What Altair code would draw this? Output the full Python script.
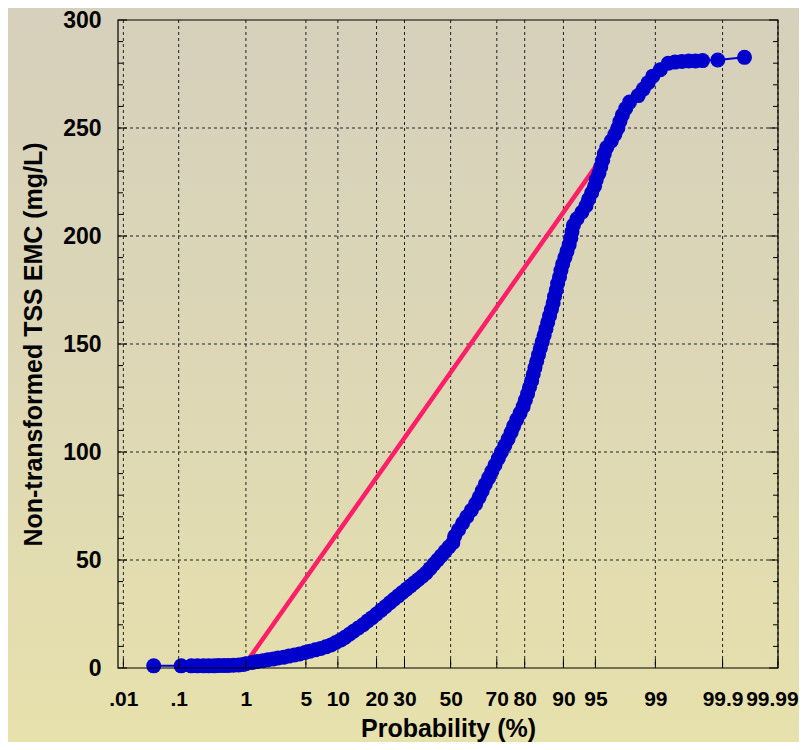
import altair as alt
import pandas as pd
from statistics import NormalDist

# ---- data ----
prob_pct = [
    0.037, 0.11, 0.16, 0.20, 0.25, 0.30, 0.36, 0.42, 0.50, 0.58, 0.68, 0.80, 0.92,
    1.0, 1.2, 1.4, 1.65, 1.9, 2.2, 2.5, 2.9, 3.3, 3.8, 4.3, 4.9, 5.5, 6.2, 7.0, 7.8, 8.7, 9.6, 10.6,
    11.5, 12.5, 13.5, 14.7, 16.0, 17.3, 18.6, 20.0, 21.5, 23.0, 24.5, 26.0, 27.6, 29.2, 30.8, 32.4,
    34.0, 35.7, 37.4, 39.0, 40.7, 42.4, 44.1, 45.8, 47.5, 49.2, 51.0,
    51.8, 53.6, 55.4, 57.3, 59.3, 61.2, 62.7, 64.0, 65.3, 66.7, 68.0, 69.3, 70.6, 71.8, 73.1, 74.3,
    75.4, 76.3, 77.4, 78.5, 79.5, 80.2, 80.9, 81.5,
    82.15, 82.6, 83.1, 83.6, 84.1, 84.6, 85.1, 85.6, 86.06, 86.5, 86.95, 87.4, 87.8, 88.1, 88.5,
    88.8, 89.2, 89.5, 89.85, 90.3, 90.7, 91.1, 91.4, 91.6, 91.85, 92.45, 93.2, 93.8, 94.15, 94.55,
    94.9, 95.1, 95.4, 95.6, 95.8, 95.96, 96.2, 96.6, 96.9, 97.13, 97.28, 97.45, 97.67, 97.9, 98.35,
    98.57, 98.76, 98.92, 99.14, 99.33,
    99.46, 99.57, 99.66, 99.73, 99.79, 99.88, 99.958,
]
tss_mgL = [
    1.0, 1.0, 1.0, 1.0, 1.0, 1.0, 1.0, 1.1, 1.1, 1.2, 1.3, 1.4, 1.6,
    2.0, 2.5, 3.0, 3.4, 3.8, 4.2, 4.6, 5.0, 5.5, 6.0, 6.5, 7.2, 7.8, 8.4, 9.0, 9.8, 10.7, 11.8, 13.0,
    14.2, 15.6, 17, 18.5, 20, 21.8, 23.3, 25, 26.8, 28.5, 30.2, 31.8, 33.4, 35, 36.5, 38,
    39.5, 41, 42.5, 44, 46, 48, 50, 52, 54, 56, 58,
    61, 64, 67, 70, 73, 76, 79, 82, 85, 88, 91, 94, 97, 100, 103, 106,
    109, 112, 115, 118, 121, 124, 127, 130,
    133, 136, 139, 142, 145, 148, 151, 154, 157, 160, 163, 166, 169, 172, 175,
    178, 181, 184, 187, 190, 193, 196, 199, 202, 205, 208, 211, 214, 217, 220,
    223, 226, 229, 232, 235, 238, 241, 244, 247, 250, 253, 256, 259, 262, 265,
    268, 271, 274, 277, 280,
    280.5, 280.8, 281, 281, 281.2, 281.5, 282.7,
]

# red fitted (normal) line
fit_prob = [1.0, 95.0]
fit_tss = [2.3, 232.0]

# axis ticks
tick_prob = [0.01, 0.1, 1, 5, 10, 20, 30, 50, 70, 80, 90, 95, 99, 99.9, 99.99]
tick_text = [".01", ".1", "1", "5", "10", "20", "30", "50", "70", "80", "90", "95", "99", "99.9", "99.99"]
y_major = [0, 50, 100, 150, 200, 250, 300]
y_minor = [10, 20, 30, 40, 60, 70, 80, 90, 110, 120, 130, 140, 160, 170, 180, 190,
           210, 220, 230, 240, 260, 270, 280, 290]
y_grid = [50, 100, 150, 200, 250]

nd = NormalDist()
def z(p):
    return nd.inv_cdf(p / 100.0)

W, H = 660, 648
PL, PT, PR, PB = 110, 12, 21, 74

pts = pd.DataFrame({"z": [z(p) for p in prob_pct], "tss": tss_mgL})
fit = pd.DataFrame({"z": [z(p) for p in fit_prob], "tss": fit_tss})
ticks = pd.DataFrame({"z": [z(p) for p in tick_prob], "label": tick_text})

# label expression built from the tick lists
expr = "''"
for zz, t in reversed(list(zip(ticks["z"], tick_text))):
    expr = f"abs(datum.value - ({zz:.5f})) < 0.001 ? '{t}' : ({expr})"

FONT = "Liberation Sans, Arial, sans-serif"

xscale = alt.Scale(domain=[-3.78, 3.72], nice=False, zero=False)
yscale = alt.Scale(domain=[0, 300], nice=False)

x_axis = alt.Axis(values=list(ticks["z"]), labelExpr=expr, grid=False, ticks=False, domain=False,
                  labelFont=FONT, labelFontWeight="bold", labelFontSize=21, labelColor="black",
                  labelPadding=20, labelFlush=False, labelOverlap=False,
                  labelOffset={"condition": {"test": "datum.value > 3.5", "value": -6}, "value": 0},
                  title="Probability (%)", titleFont=FONT, titleFontWeight="bold",
                  titleFontSize=25, titleColor="black", titlePadding=7, zindex=2)
y_axis = alt.Axis(values=y_major, grid=False, ticks=False, domain=False,
                  labelFont=FONT, labelFontWeight="bold", labelFontSize=23, labelColor="black",
                  labelPadding=17,
                  title="Non-transformed TSS EMC (mg/L)", titleFont=FONT, titleFontWeight="bold",
                  titleFontSize=25, titleColor="black", titlePadding=16, zindex=2)

X = lambda f: alt.X(f, type="quantitative", scale=xscale, axis=x_axis, title="Probability (%)")
Y = lambda f: alt.Y(f, type="quantitative", scale=yscale, axis=y_axis, title="Non-transformed TSS EMC (mg/L)")

one = pd.DataFrame({"a": [0]})

bg = alt.Chart(one).mark_rect(
    fill=alt.Gradient(gradient="linear", x1=0, x2=0, y1=0, y2=1,
                      stops=[alt.GradientStop(color="#d6d0bc", offset=0),
                             alt.GradientStop(color="#ddd7b6", offset=0.5),
                             alt.GradientStop(color="#e7e1ac", offset=1)]),
    stroke=None
).encode(x=alt.value(-PL), x2=alt.value(W + PR), y=alt.value(-PT), y2=alt.value(H + PB))

vgrid = alt.Chart(ticks).mark_rule(color="#222222", strokeDash=[3, 3], strokeWidth=1).encode(
    x=X("z"), y=alt.value(0), y2=alt.value(H))
hgrid = alt.Chart(pd.DataFrame({"v": y_grid})).mark_rule(color="#222222", strokeDash=[3, 3], strokeWidth=1).encode(
    y=Y("v"), x=alt.value(0), x2=alt.value(W))

red = alt.Chart(fit).mark_line(color="#ff1f66", strokeWidth=4.5).encode(x=X("z"), y=Y("tss"))

blue_line = alt.Chart(pts).mark_line(color="#0000cc", strokeWidth=2).encode(
    x=X("z"), y=Y("tss"), order="z:Q")
blue_pts = alt.Chart(pts).mark_circle(color="#0000cc", size=225, opacity=1).encode(
    x=X("z"), y=Y("tss"))

ymaj_df = pd.DataFrame({"v": y_major})
ymin_df = pd.DataFrame({"v": y_minor})
tick_style = dict(color="black", strokeWidth=1)
ymaj_l = alt.Chart(ymaj_df).mark_rule(**tick_style).encode(y=Y("v"), x=alt.value(0), x2=alt.value(9))
ymin_l = alt.Chart(ymin_df).mark_rule(**tick_style).encode(y=Y("v"), x=alt.value(0), x2=alt.value(5))
ymaj_r = alt.Chart(ymaj_df).mark_rule(**tick_style).encode(y=Y("v"), x=alt.value(W - 9), x2=alt.value(W))
ymin_r = alt.Chart(ymin_df).mark_rule(**tick_style).encode(y=Y("v"), x=alt.value(W - 5), x2=alt.value(W))
xt = alt.Chart(ticks).mark_rule(**tick_style).encode(x=X("z"), y=alt.value(H - 9), y2=alt.value(H))

frame = alt.Chart(one).mark_rect(fill="transparent", stroke="black", strokeWidth=1.2).encode(
    x=alt.value(0), x2=alt.value(W), y=alt.value(0), y2=alt.value(H))

chart = alt.layer(bg, vgrid, hgrid, red, blue_line, blue_pts,
                  ymaj_l, ymin_l, ymaj_r, ymin_r, xt, frame).properties(
    width=W, height=H,
    autosize=alt.AutoSizeParams(type="none"),
    padding={"left": PL, "top": PT, "right": PR, "bottom": PB},
    background="#ddd7b5",
).configure_view(stroke=None)

chart.save("out.html", embed_options={"renderer": "svg", "actions": False})
